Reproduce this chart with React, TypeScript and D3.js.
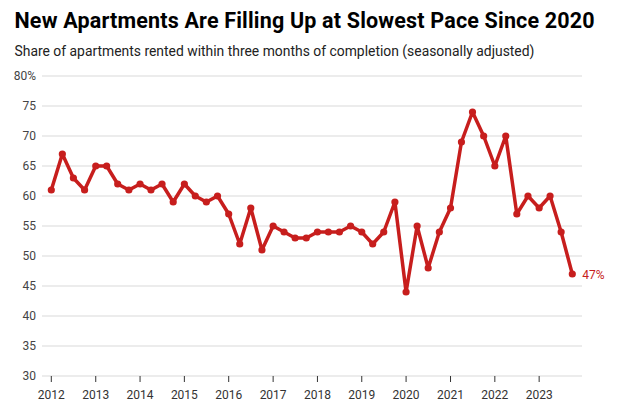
import React from "react";
import * as d3 from "d3";

const years = [2012, 2013, 2014, 2015, 2016, 2017, 2018, 2019, 2020, 2021, 2022, 2023];
const quarterlyShare = [
  61, 67, 63, 61,
  65, 65, 62, 61,
  62, 61, 62, 59,
  62, 60, 59, 60,
  57, 52, 58, 51,
  55, 54, 53, 53,
  54, 54, 54, 55,
  54, 52, 54, 59,
  44, 55, 48, 54,
  58, 69, 74, 70,
  65, 70, 57, 60,
  58, 60, 54, 47,
];
const yTicks = [30, 35, 40, 45, 50, 55, 60, 65, 70, 75, 80];

const W = 627;
const H = 415;
const RED = "#c71e1d";

export default function App() {
  const dates = quarterlyShare.map((_, i) => new Date(years[0] + Math.floor(i / 4), (i % 4) * 3, 1));
  const x = d3
    .scaleTime()
    .domain([new Date(2012, 0, 1), new Date(2023, 9, 1)])
    .range([51.3, 572.3]);
  const y = d3.scaleLinear().domain([30, 80]).range([376, 76]);
  const line = d3
    .line<number>()
    .x((_, i) => x(dates[i]))
    .y((d) => y(d));
  const gridX0 = 42;
  const gridX1 = 582;
  const last = quarterlyShare.length - 1;

  return (
    <svg
      width={W}
      height={H}
      style={{ position: "absolute", left: 0, top: 0, background: "#fff" }}
      fontFamily="Roboto, sans-serif"
    >
      <text x={14.5} y={27.5} fontSize={21.5} fontWeight={700} fill="#000" letterSpacing={0.18}>
        New Apartments Are Filling Up at Slowest Pace Since 2020
      </text>
      <text x={14.5} y={55.5} fontSize={13.9} fill="#222">
        Share of apartments rented within three months of completion (seasonally adjusted)
      </text>
      {yTicks.map((t) => (
        <g key={t}>
          <line x1={gridX0} x2={gridX1} y1={y(t)} y2={y(t)} stroke="#d9d9d9" strokeWidth={1} />
          <text x={36} y={y(t) + 4.3} fontSize={12} fill="#444" textAnchor="end">
            {t === 80 ? "80%" : t}
          </text>
        </g>
      ))}
      {years.map((yr) => {
        const xx = x(new Date(yr, 0, 1));
        return (
          <g key={yr}>
            <line x1={xx} x2={xx} y1={376} y2={382} stroke="#333" strokeWidth={1} />
            <text x={xx} y={399} fontSize={12} fill="#333" textAnchor="middle">
              {yr}
            </text>
          </g>
        );
      })}
      <path
        d={line(quarterlyShare) || ""}
        fill="none"
        stroke={RED}
        strokeWidth={3.5}
        strokeLinejoin="round"
        strokeLinecap="round"
      />
      {quarterlyShare.map((v, i) => (
        <circle key={i} cx={x(dates[i])} cy={y(v)} r={3.6} fill={RED} />
      ))}
      <text x={x(dates[last]) + 10} y={y(quarterlyShare[last]) + 4.5} fontSize={12} fill={RED}>
        {quarterlyShare[last]}%
      </text>
    </svg>
  );
}
